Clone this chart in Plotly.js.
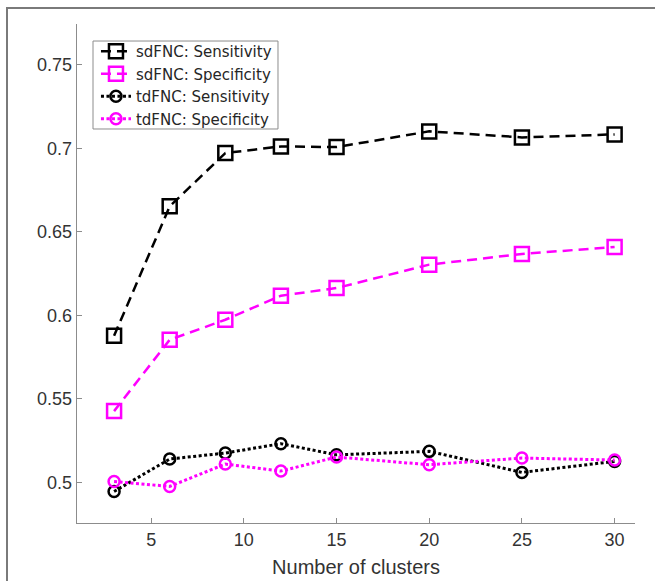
<!DOCTYPE html>
<html>
<head>
<meta charset="utf-8">
<script src="https://cdn.plot.ly/plotly-3.0.1.min.js"></script>
<style>
  html, body { margin: 0; padding: 0; background: #ffffff; }
  #frame { position: absolute; left: 6px; top: 7px; width: 700px; height: 700px;
           border-left: 2px solid #7a7a7a; border-top: 2px solid #7a7a7a; z-index: 0; }
  #chart { position: absolute; left: 0; top: 0; width: 655px; height: 581px; z-index: 1; }
</style>
</head>
<body>
<div id="frame"></div>
<div id="chart"></div>
<script>
// Data
const clusters = [3, 6, 9, 12, 15, 20, 25, 30];
const sdSensitivity = [0.5878, 0.6653, 0.6972, 0.7012, 0.7008, 0.7102, 0.7066, 0.7084];
const sdSpecificity = [0.5427, 0.5854, 0.5974, 0.6118, 0.6164, 0.6304, 0.6368, 0.6410];
const tdSensitivity = [0.4946, 0.5140, 0.5176, 0.5232, 0.5165, 0.5186, 0.5060, 0.5126];
const tdSpecificity = [0.5006, 0.4976, 0.5110, 0.5068, 0.5152, 0.5106, 0.5146, 0.5134];
const seriesNames = ['sdFNC: Sensitivity', 'sdFNC: Specificity', 'tdFNC: Sensitivity', 'tdFNC: Specificity'];
const xTickVals = [5, 10, 15, 20, 25, 30];
const yTickVals = [0.5, 0.55, 0.6, 0.65, 0.7, 0.75];
const yTickText = ['0.5', '0.55', '0.6', '0.65', '0.7', '0.75'];
const xTitle = 'Number of clusters';

const black = '#000000';
const magenta = '#ff00ff';
const font = 'Liberation Sans, Arial, Helvetica, sans-serif';

function sq(y, name, color) {
  return {
    x: clusters, y: y, name: name, type: 'scatter', mode: 'lines+markers',
    line: {color: color, width: 2.5, dash: '10px,6px'},
    marker: {symbol: 'square-open', size: 14, color: color, line: {color: color, width: 2.5}}
  };
}
function circ(y, name, color) {
  return {
    x: clusters, y: y, name: name, type: 'scatter', mode: 'lines+markers',
    line: {color: color, width: 3, dash: '3px,2.5px'},
    marker: {symbol: 'circle-open', size: 11, color: color, line: {color: color, width: 2.5}}
  };
}

const data = [
  sq(sdSensitivity, seriesNames[0], black),
  sq(sdSpecificity, seriesNames[1], magenta),
  circ(tdSensitivity, seriesNames[2], black),
  circ(tdSpecificity, seriesNames[3], magenta)
];

const axisCol = '#8c8c8c';
const layout = {
  width: 655, height: 581,
  margin: {l: 77, r: 20, t: 24, b: 58},
  paper_bgcolor: 'rgba(0,0,0,0)',
  plot_bgcolor: 'rgba(0,0,0,0)',
  font: {family: font, color: '#333333'},
  showlegend: true,
  legend: {
    x: 0.034, y: 0.978, xanchor: 'left', yanchor: 'top',
    bgcolor: 'rgba(0,0,0,0)', bordercolor: 'rgba(0,0,0,0)', borderwidth: 0,
    font: {family: 'DejaVu Sans, Liberation Sans, sans-serif', size: 15, color: '#262626'},
    tracegroupgap: 0
  },
  shapes: [{
    type: 'rect', xref: 'paper', yref: 'paper',
    x0: 0.0287, x1: 0.3602, y0: 0.7896, y1: 0.9659,
    line: {color: '#8c8c8c', width: 1}, fillcolor: 'rgba(255,255,255,1)', layer: 'below'
  }],
  xaxis: {
    range: [1, 31.1], tickvals: xTickVals, ticktext: xTickVals.map(String),
    showline: true, linecolor: axisCol, linewidth: 1.3, mirror: false,
    ticks: 'inside', ticklen: 5, tickcolor: axisCol, tickwidth: 1,
    showgrid: false, zeroline: false,
    tickfont: {family: font, size: 18, color: '#333333'},
    title: {text: xTitle, font: {family: font, size: 20, color: '#333333'}, standoff: 11}
  },
  yaxis: {
    range: [0.4757, 0.7745], tickvals: yTickVals, ticktext: yTickText,
    showline: true, linecolor: axisCol, linewidth: 1.3, mirror: false,
    ticks: 'inside', ticklen: 5, tickcolor: axisCol, tickwidth: 1,
    showgrid: false, zeroline: false,
    tickfont: {family: font, size: 18, color: '#333333'}
  }
};

Plotly.newPlot('chart', data, layout, {staticPlot: true, displayModeBar: false});
</script>
</body>
</html>
